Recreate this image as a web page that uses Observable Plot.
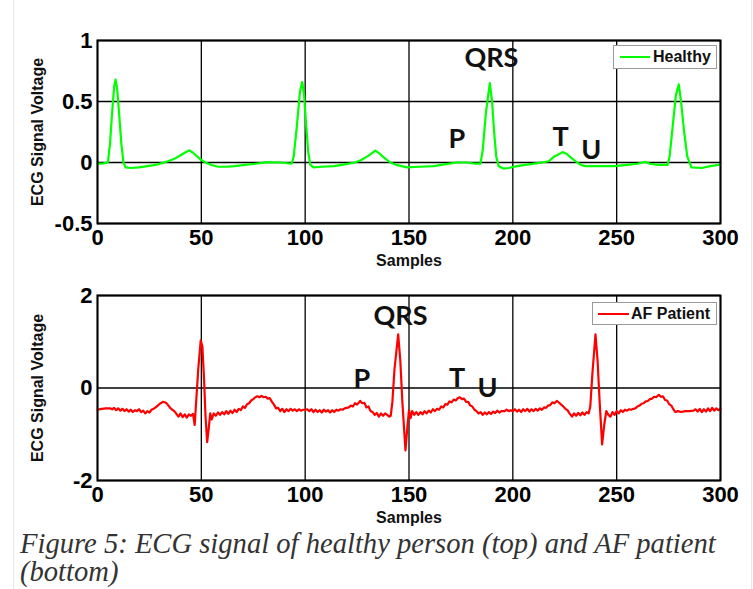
<!DOCTYPE html>
<html>
<head>
<meta charset="utf-8">
<script src="https://cdn.jsdelivr.net/npm/d3@7"></script>
<script src="https://cdn.jsdelivr.net/npm/@observablehq/plot@0.6"></script>
<style>
  html, body { margin: 0; padding: 0; background: #fff; }
  #wrap { position: relative; width: 753px; height: 589px; overflow: hidden; background: #fff; }
  .vline { position: absolute; top: 0; width: 1px; height: 589px; background: #e6e6e6; }
  .legend { position: absolute; background: #fff; border: 1px solid #9a9a9a; box-sizing: border-box;
            font: bold 16px "Liberation Sans", Arial, sans-serif; color: #111; }
  .legend .sw { position: absolute; height: 2px; top: 50%; margin-top: -1px; }
  .legend .lbl { position: absolute; top: 50%; transform: translateY(-50%); white-space: nowrap; }
  #caption { position: absolute; left: 20px; top: 530px; width: 730px;
             font: italic 28.6px "Liberation Serif", "DejaVu Serif", serif; color: #333; line-height: 28px; }
</style>
</head>
<body>
<div id="wrap">
  <div class="vline" style="left:13px"></div>
  <div class="vline" style="left:751px"></div>
  <div id="top" style="position:absolute;left:0;top:0"></div>
  <div id="bot" style="position:absolute;left:0;top:270px"></div>
  <div class="legend" style="left:613px;top:45px;width:104px;height:24px">
    <div class="sw" style="left:6px;width:30px;background:#00ff00"></div>
    <div class="lbl" style="left:39px">Healthy</div>
  </div>
  <div class="legend" style="left:592px;top:302px;width:125px;height:23px">
    <div class="sw" style="left:5px;width:31px;background:#ff0000"></div>
    <div class="lbl" style="left:38px">AF Patient</div>
  </div>
  <div id="caption">Figure 5: ECG signal of healthy person (top) and AF patient (bottom)</div>
</div>
<script>
// ---------- data ----------
const xTicks = [0, 50, 100, 150, 200, 250, 300];
const yTicksHealthy = [-0.5, 0, 0.5, 1];
const yTicksAF = [-2, 0, 2];
const xLabel = "Samples";
const yLabel = "ECG Signal Voltage";

// Healthy ECG (sample, voltage)
const healthy = [
  [0,-0.01],[2,-0.01],[3.5,-0.005],[5,0.0],[6,0.15],[7,0.4],[8,0.62],[8.7,0.68],[9.5,0.6],[10.5,0.38],[11.5,0.15],[12.5,0.0],[13.5,-0.04],
  [16,-0.045],[20,-0.04],[24,-0.03],[28,-0.02],[31,-0.005],[34,0.01],[37,0.03],[40,0.06],[42,0.08],[44.3,0.1],[46,0.08],[48,0.05],[50,0.02],
  [52,0.0],[55,-0.02],[58,-0.035],[62,-0.035],[66,-0.03],[71,-0.02],[76,-0.01],[82,0.003],[88,0.0],[93.5,-0.01],[94.5,0.05],[96,0.3],
  [97.5,0.58],[98.6,0.66],[99.5,0.55],[100.5,0.3],[101.5,0.08],[102.5,-0.02],[104,-0.04],[108,-0.035],[114,-0.03],[119,-0.015],[124,0.0],
  [127,0.02],[130,0.05],[133.8,0.098],[136,0.07],[138,0.04],[141,0.0],[144,-0.02],[149,-0.04],[155,-0.035],[162,-0.03],[167,-0.015],
  [173,0.0],[178,0.0],[182,-0.01],[184.4,-0.01],[185.5,0.1],[187,0.4],[188.9,0.65],[190,0.5],[191,0.25],[192,0.05],[193.2,-0.03],
  [195.5,-0.05],[198,-0.045],[202,-0.03],[206,-0.02],[212,-0.005],[217.3,0.01],[220,0.05],[224,0.085],[226,0.07],[228,0.04],[231,0.0],
  [233,-0.02],[235,-0.03],[242,-0.03],[249,-0.03],[255,-0.02],[260,-0.01],[263.8,0.005],[266,-0.01],[270,-0.02],[274.5,-0.02],[275.5,0.05],
  [277,0.3],[278.5,0.55],[279.9,0.64],[281,0.5],[282.5,0.25],[284,0.05],[286,-0.04],[291,-0.045],[295,-0.03],[299,-0.02],[300,-0.01]
];

// AF patient ECG (sample, voltage)
const afPatient = [
  [0,-0.47],[2,-0.45],[4,-0.44],[6,-0.44],[7,-0.46],[8,-0.43],[9,-0.48],[10,-0.44],[11,-0.49],[12,-0.45],[13,-0.5],[14,-0.46],[15,-0.51],
  [16,-0.47],[17,-0.52],[18,-0.48],[19,-0.5],[20,-0.46],[21,-0.52],[22,-0.49],[23,-0.55],[24,-0.5],[25,-0.53],[26,-0.47],[27,-0.45],
  [28,-0.42],[29,-0.38],[30,-0.34],[31.5,-0.3],[33,-0.32],[34,-0.37],[35,-0.43],[36,-0.47],[37,-0.5],[38,-0.56],[39,-0.62],[40,-0.55],
  [41,-0.63],[42,-0.57],[43,-0.64],[44,-0.57],[45,-0.6],[46,-0.56],[46.8,-0.8],[47.5,-0.3],[48.5,0.4],[49.7,1.03],[50.5,0.9],[51.3,0.2],
  [52,-0.6],[52.8,-1.17],[53.5,-0.9],[54.3,-0.55],[55,-0.68],[56,-0.55],[57,-0.6],[58,-0.53],[59,-0.58],[60,-0.52],[61,-0.57],[62,-0.5],
  [63,-0.56],[64,-0.49],[65,-0.54],[66,-0.47],[67,-0.52],[68,-0.45],[69,-0.48],[70,-0.4],[71,-0.43],[72,-0.35],[73,-0.33],[74,-0.27],
  [75,-0.24],[76,-0.2],[77,-0.18],[78,-0.2],[79,-0.17],[80,-0.2],[81,-0.19],[82,-0.23],[83,-0.22],[84,-0.3],[85,-0.36],[86,-0.44],
  [87,-0.43],[88,-0.5],[89,-0.45],[90,-0.52],[91,-0.46],[92,-0.5],[93,-0.45],[94,-0.49],[95,-0.46],[96,-0.5],[97,-0.46],[98,-0.49],
  [99,-0.47],[100,-0.47],[101,-0.46],[102,-0.5],[103,-0.46],[104,-0.52],[105,-0.47],[106,-0.52],[107,-0.48],[108,-0.53],[109,-0.47],
  [110,-0.51],[111,-0.48],[112,-0.53],[113,-0.48],[114,-0.52],[115,-0.47],[116,-0.49],[117,-0.46],[118,-0.47],[119,-0.44],[120,-0.43],
  [121,-0.42],[122,-0.38],[123,-0.4],[124,-0.33],[125,-0.36],[126.5,-0.28],[127.5,-0.33],[128.5,-0.32],[129.5,-0.42],[130.5,-0.4],
  [131.5,-0.5],[132.5,-0.52],[133.5,-0.58],[134.5,-0.54],[135.5,-0.62],[136.5,-0.55],[137.5,-0.6],[138.5,-0.55],[139.5,-0.58],
  [140.5,-0.62],[141.2,-0.6],[142,-0.3],[143,0.4],[144.8,1.16],[145.8,0.6],[146.8,-0.3],[148.3,-1.35],[149.3,-0.8],[150,-0.48],
  [150.8,-0.65],[151.5,-0.5],[152.5,-0.58],[153.5,-0.52],[154.5,-0.58],[155.5,-0.52],[156.5,-0.57],[157.5,-0.5],[158.5,-0.55],
  [159.5,-0.49],[160.5,-0.53],[161.5,-0.46],[162.5,-0.5],[163.5,-0.45],[164.5,-0.47],[165.5,-0.4],[166.5,-0.42],[167.5,-0.35],
  [168.5,-0.36],[169.5,-0.29],[170.5,-0.31],[171.5,-0.25],[172.5,-0.27],[173.5,-0.22],[174.5,-0.2],[175.5,-0.24],[176.5,-0.23],
  [177.5,-0.3],[178.5,-0.3],[179.5,-0.38],[180.5,-0.4],[181.5,-0.47],[182.5,-0.5],[183.5,-0.55],[184.5,-0.52],[185.5,-0.58],
  [186.5,-0.53],[187.5,-0.57],[188.5,-0.52],[189.5,-0.56],[190.5,-0.51],[191.5,-0.54],[192.5,-0.49],[193.5,-0.53],[194.5,-0.5],
  [196,-0.5],[197,-0.47],[198,-0.5],[199,-0.48],[200,-0.5],[201,-0.46],[202,-0.51],[203,-0.47],[204,-0.52],[205,-0.46],[206,-0.5],
  [207,-0.45],[208,-0.51],[209,-0.46],[210,-0.5],[211,-0.45],[212,-0.49],[213,-0.44],[214,-0.47],[215,-0.42],[216,-0.43],[217,-0.38],
  [218,-0.37],[219,-0.31],[220,-0.33],[221.3,-0.28],[222.3,-0.32],[223.3,-0.36],[224.3,-0.4],[225.3,-0.45],[226.3,-0.48],[227.3,-0.55],
  [228.5,-0.62],[229.5,-0.55],[230.5,-0.6],[231.5,-0.54],[232.5,-0.59],[233.5,-0.53],[234.5,-0.58],[235.5,-0.52],[236.5,-0.55],
  [237.3,-0.4],[238.3,0.3],[239.8,1.16],[240.8,0.6],[241.8,-0.3],[243,-1.22],[244,-0.8],[245,-0.5],[246,-0.58],[247,-0.62],[248,-0.52],
  [249,-0.58],[250,-0.5],[251,-0.55],[252,-0.48],[253,-0.52],[254,-0.47],[255,-0.49],[256,-0.46],[257,-0.47],[258,-0.45],[259,-0.44],
  [260,-0.4],[261,-0.38],[262,-0.34],[263,-0.33],[264,-0.29],[265,-0.28],[266,-0.24],[267,-0.23],[268,-0.19],[269,-0.2],[270.3,-0.15],
  [271.3,-0.19],[272.3,-0.18],[273.3,-0.26],[274.3,-0.27],[275.3,-0.35],[276.3,-0.38],[277.3,-0.46],[278.3,-0.52],[279.5,-0.5],
  [281,-0.52],[283,-0.5],[285,-0.5],[287,-0.49],[288,-0.46],[289,-0.51],[290,-0.45],[291,-0.52],[292,-0.46],[293,-0.51],[294,-0.44],
  [295,-0.5],[296,-0.43],[297,-0.49],[298,-0.44],[299,-0.48],[300,-0.45]
];

// Wave annotations (label, sample, voltage)
const healthyNotes = [["QRS", 189.7, 0.85], ["P", 173, 0.19], ["T", 223, 0.205], ["U", 237.8, 0.1]];
const afNotes = [["QRS", 145.9, 1.55], ["P", 127.3, 0.19], ["T", 173.1, 0.21], ["U", 187.8, 0.0]];

// ---------- drawing ----------
const tickFont = '"Liberation Sans", Arial, sans-serif';

function panel({data, color, yDomain, yTicks, notes, height, marginTop, marginBottom}) {
  return Plot.plot({
    width: 753, height, marginLeft: 97, marginRight: 33, marginTop, marginBottom,
    style: {fontFamily: tickFont, fontWeight: "bold", background: "transparent", overflow: "visible", color: "#000"},
    x: {domain: [0, 300]},
    y: {domain: yDomain},
    marks: [
      Plot.gridX(xTicks, {stroke: "#000", strokeOpacity: 1, strokeWidth: 1.3}),
      Plot.gridY(yTicks, {stroke: "#000", strokeOpacity: 1, strokeWidth: 1.5}),
      Plot.line(data, {x: d => d[0], y: d => d[1], stroke: color, strokeWidth: 2.2, strokeLinejoin: "round"}),
      Plot.text(notes, {x: d => d[1], y: d => d[2], text: d => d[0], fontFamily: "Lato, 'Open Sans', sans-serif",
        fontWeight: "bold", fontSize: 27, fill: "#111", lineAnchor: "middle"}),
      Plot.frame({stroke: "#000", strokeWidth: 2}),
      Plot.axisX(xTicks, {tickSize: 0, tickPadding: 6, label: null, fontSize: 22, fontWeight: "bold", tickFormat: d => String(d)}),
      Plot.axisY(yTicks, {tickSize: 0, tickPadding: 5, label: null, fontSize: 22, fontWeight: "bold", tickFormat: d => String(d)}),
      Plot.text([xLabel], {frameAnchor: "bottom", dy: 37, fontSize: 16, fontWeight: "bold", fill: "#111",
        textAnchor: "middle", lineAnchor: "middle"}),
      Plot.text([yLabel], {frameAnchor: "left", dx: -60, rotate: -90, fontSize: 16, fontWeight: "bold", fill: "#111",
        textAnchor: "middle", lineAnchor: "middle"})
    ]
  });
}

document.getElementById("top").append(panel({
  data: healthy, color: "#00ff00", yDomain: [-0.5, 1], yTicks: yTicksHealthy, notes: healthyNotes,
  height: 270, marginTop: 40, marginBottom: 47
}));
document.getElementById("bot").append(panel({
  data: afPatient, color: "#ff0000", yDomain: [-2, 2], yTicks: yTicksAF, notes: afNotes,
  height: 260, marginTop: 25, marginBottom: 50
}));
</script>
</body>
</html>
